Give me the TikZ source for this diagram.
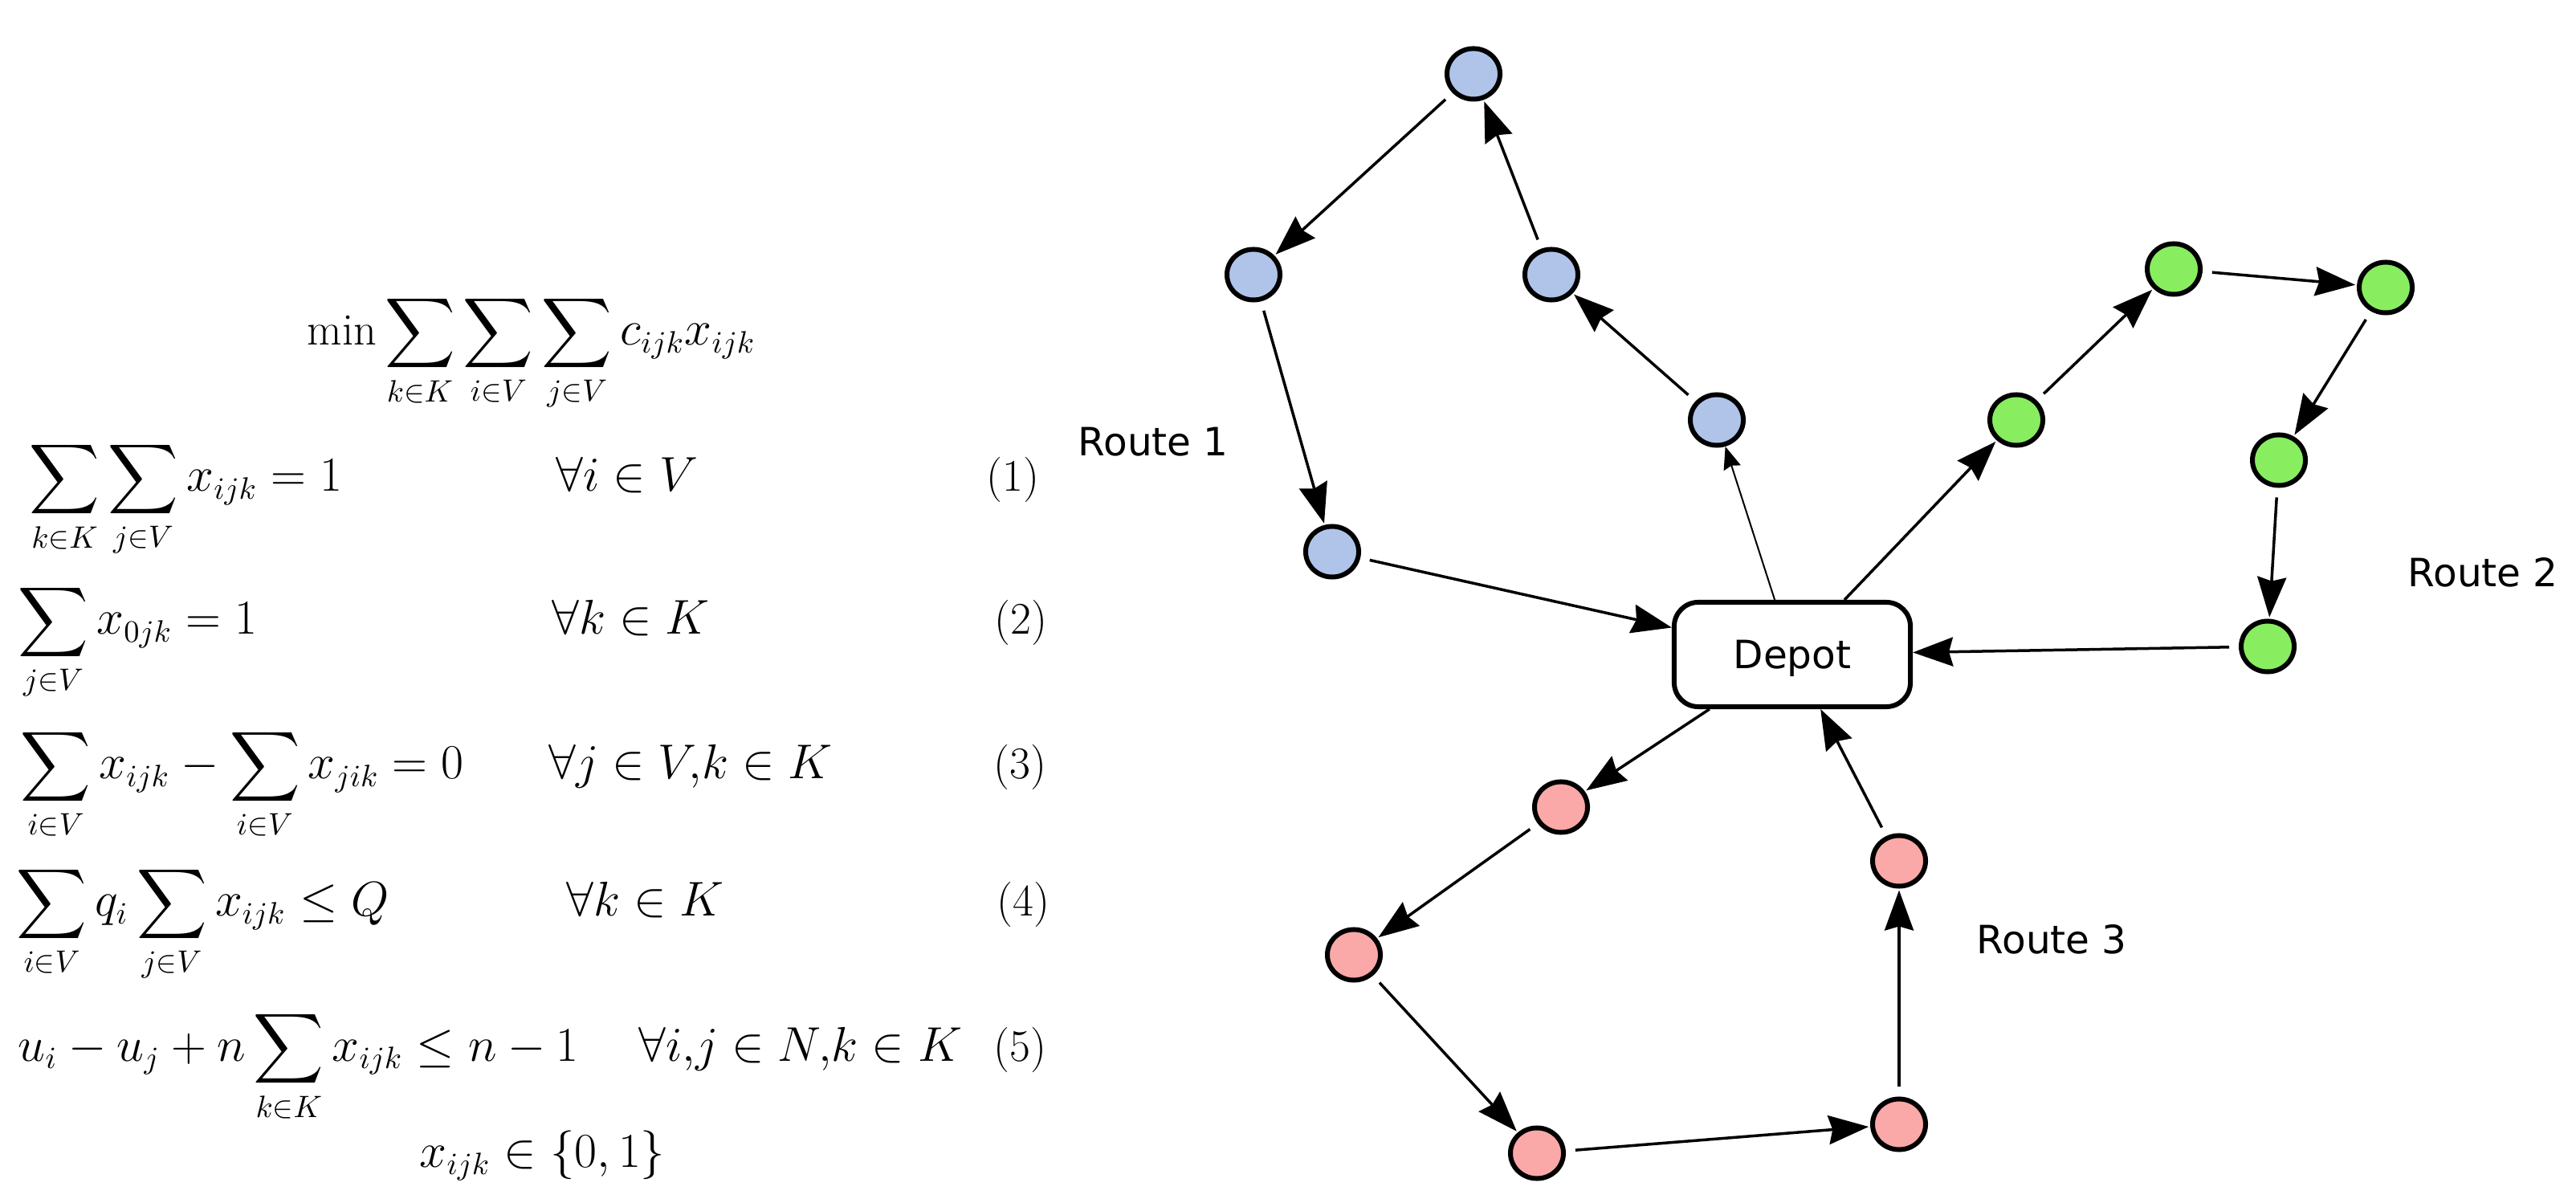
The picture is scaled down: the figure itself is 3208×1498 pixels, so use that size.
\documentclass[tikz,border=0pt]{standalone}
\usepackage{amsmath}
\usepackage{fontspec}
\newfontfamily\routefont{DejaVu Sans}
\usetikzlibrary{arrows.meta,shapes.geometric}
\definecolor{stopblue}{RGB}{176,196,234}
\definecolor{stopgreen}{RGB}{136,238,96}
\definecolor{stopred}{RGB}{250,168,168}
\tikzset{
    stop/.style={ellipse, draw, line width=0.06cm, minimum width=0.66cm, minimum height=0.63cm, inner sep=0pt},
    depotbox/.style={draw, line width=0.06cm, rounded corners=0.3cm, minimum width=2.94cm, minimum height=1.30cm, text depth=0pt, font=\routefont\fontsize{13.8}{16}\selectfont},
    routelabel/.style={anchor=west, inner sep=0pt, font=\routefont\fontsize{13.8}{16}\selectfont},
    leg/.style={line width=0.035cm, shorten <=0.12cm, shorten >=0.02cm, -{Stealth[length=0.5cm, width=0.36cm, inset=0.05cm]}},
    thinleg/.style={line width=0.02cm, -{Stealth[length=0.28cm, width=0.22cm, inset=0.03cm]}},
    eq/.style={anchor=base west, inner sep=0pt, font=\fontsize{16}{19}\selectfont},
    eqno/.style={anchor=base east, inner sep=0pt, font=\fontsize{16}{19}\selectfont}
}
\begin{document}
\begin{tikzpicture}[x=0.01cm, y=-0.01cm]
    \useasboundingbox (0,0) rectangle (3208,1498);
    %draw model
    \node[eq] (obj) at (382,430) {$\displaystyle \min\sum_{k\in K}\sum_{i\in V}\sum_{j\in V} c_{ijk}x_{ijk}$};
    \node[eq] (c1) at (36,612) {$\displaystyle \sum_{k\in K}\sum_{j\in V} x_{ijk}=1$};
    \node[eq] (c1q) at (692,612) {$\forall i\in V$};
    \node[eqno] (n1) at (1295,612) {(1)};
    \node[eq] (c2) at (22,790) {$\displaystyle \sum_{j\in V} x_{0jk}=1$};
    \node[eq] (c2q) at (687,790) {$\forall k\in K$};
    \node[eqno] (n2) at (1305,790) {(2)};
    \node[eq] (c3) at (25,970) {$\displaystyle \sum_{i\in V} x_{ijk}-\sum_{i\in V} x_{jik}=0$};
    \node[eq] (c3q) at (683,970) {$\forall j\in V,\!k\in K$};
    \node[eqno] (n3) at (1304,970) {(3)};
    \node[eq] (c4) at (20,1141) {$\displaystyle \sum_{i\in V} q_i\sum_{j\in V} x_{ijk}\leq Q$};
    \node[eq] (c4q) at (705,1141) {$\forall k\in K$};
    \node[eqno] (n4) at (1308,1141) {(4)};
    \node[eq] (c5) at (22,1321) {$\displaystyle u_i-u_j+n\sum_{k\in K} x_{ijk}\leq n-1$};
    \node[eq] (c5q) at (795,1321) {$\forall i,\!j\in N,\!k\in K$};
    \node[eqno] (n5) at (1304,1321) {(5)};
    \node[eq] (bin) at (522,1453) {$x_{ijk}\in\{0,1\}$};
    %draw depot and stops
    \node[depotbox] (dep) at (2232,815) {Depot};
    \node[stop, fill=stopblue] (b1) at (1835,92) {};
    \node[stop, fill=stopblue] (b2) at (1561,342) {};
    \node[stop, fill=stopblue] (b3) at (1932,342) {};
    \node[stop, fill=stopblue] (b4) at (2138,523) {};
    \node[stop, fill=stopblue] (b5) at (1659,687) {};
    \node[stop, fill=stopgreen] (g1) at (2511,523) {};
    \node[stop, fill=stopgreen] (g2) at (2707,335) {};
    \node[stop, fill=stopgreen] (g3) at (2971,358) {};
    \node[stop, fill=stopgreen] (g4) at (2838,573) {};
    \node[stop, fill=stopgreen] (g5) at (2824,805) {};
    \node[stop, fill=stopred] (r1) at (1944,1005) {};
    \node[stop, fill=stopred] (r2) at (1686,1189) {};
    \node[stop, fill=stopred] (r3) at (1914,1436) {};
    \node[stop, fill=stopred] (r4) at (2365,1400) {};
    \node[stop, fill=stopred] (r5) at (2365,1072) {};
    \node[routelabel] (l1) at (1342,550) {Route 1};
    \node[routelabel] (l2) at (2998,713) {Route 2};
    \node[routelabel] (l3) at (2461,1170) {Route 3};
    %draw routes
    \draw[thinleg] (dep) -- (b4);
    \foreach \s/\t in {b4/b3, b3/b1, b1/b2, b2/b5, g1/g2, g2/g3, g3/g4, g4/g5, r1/r2, r2/r3, r3/r4, r4/r5}
        {%
            \draw[leg] (\s) -- (\t);
        }
    \foreach \s/\t in {b5/dep, g5/dep, r5/dep}
        {%
            \draw[leg, shorten >=0pt] (\s) -- (\t);
        }
    \foreach \t in {g1, r1}
        {%
            \draw[leg, shorten <=0pt] (dep) -- (\t);
        }
\end{tikzpicture}
\end{document}
